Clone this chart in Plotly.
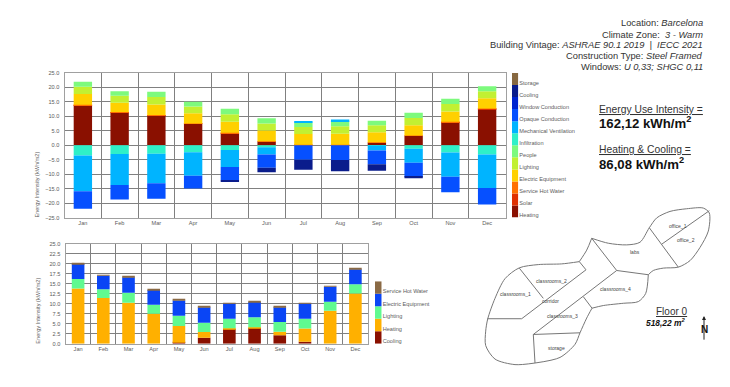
import plotly.graph_objects as go

W, H = 730, 387
MONTHS = ["Jan", "Feb", "Mar", "Apr", "May", "Jun", "Jul", "Aug", "Sep", "Oct", "Nov", "Dec"]

# Upper chart: monthly energy balance (kWh/m2)
heating = [13.8, 11.3, 10.3, 7.4, 4.2, 1.3, 0, 0, 0.9, 3.3, 8.0, 12.55]
solar = [0.05, 0.05, 0.05, 0.05, 0, 0, 0, 0, 0, 0, 0.05, 0.05]
service_hot_water = [0.15, 0.15, 0.1, 0.1, 0.1, 0.1, 0.2, 0.2, 0.1, 0.1, 0.1, 0.1]
electric_equipment = [3.7, 3.2, 3.65, 3.55, 3.8, 3.7, 3.65, 3.8, 3.5, 3.5, 3.5, 3.5]
lighting = [2.5, 2.4, 2.6, 2.3, 2.6, 2.4, 2.45, 2.6, 2.4, 2.5, 2.6, 2.5]
people = [1.7, 1.6, 1.8, 1.6, 1.9, 1.8, 1.6, 1.7, 1.6, 1.8, 1.85, 1.7]
infiltration = [-3.5, -3.0, -2.9, -2.4, -1.6, -0.7, 0, 0, -0.1, -1.2, -2.5, -3.2]
mechanical_ventilation = [-12.4, -10.7, -10.2, -8.1, -5.9, -2.5, 0.5, 0.6, -1.7, -4.8, -8.4, -11.6]
opaque_conduction = [-6.0, -5.0, -5.4, -4.4, -4.6, -4.6, -5.0, -5.1, -4.8, -4.9, -5.3, -5.7]
window_conduction = [0, 0, 0, 0, 0, 0, 0, 0, 0, 0, 0, 0]
cooling = [0, 0, 0, 0, -0.3, -1.5, -3.5, -3.9, -2.2, -0.5, 0, 0]
storage = [0, 0, 0, 0, 0, 0, 0, 0, 0, 0, 0, 0]

# Lower chart: end uses (kWh/m2)
use_cooling = [0, 0, 0, 0, 0.25, 1.5, 3.7, 3.95, 2.1, 0.5, 0, 0]
use_heating = [13.8, 11.4, 10.25, 7.45, 4.15, 1.4, 0.15, 0.15, 0.9, 3.3, 8.2, 12.55]
use_lighting = [2.4, 2.2, 2.45, 2.25, 2.6, 2.35, 2.35, 2.5, 2.4, 2.4, 2.3, 2.3]
use_electric = [3.7, 3.4, 3.9, 3.7, 3.8, 3.85, 3.8, 3.8, 3.7, 3.8, 3.75, 3.75]
use_hot_water = [0.3, 0.2, 0.3, 0.2, 0.2, 0.2, 0.2, 0.2, 0.2, 0.2, 0.2, 0.2]

UPPER_POS = [("Heating", heating, "#8a1000"), ("Solar", solar, "#e03000"),
             ("Service Hot Water", service_hot_water, "#ff7000"),
             ("Electric Equipment", electric_equipment, "#ffd000"),
             ("Lighting", lighting, "#c2f032"), ("People", people, "#7dfa7d"),
             ("Infiltration", infiltration, "#2ff0c8"),
             ("Mechanical Ventilation", mechanical_ventilation, "#00b4ff"),
             ("Opaque Conduction", opaque_conduction, "#0650ff"),
             ("Window Conduction", window_conduction, "#0024d0"),
             ("Cooling", cooling, "#0a1c8c"), ("Storage", storage, "#876840")]
LOWER = [("Cooling", use_cooling, "#8a1000"), ("Heating", use_heating, "#ffb000"),
         ("Lighting", use_lighting, "#60fa90"), ("Electric Equipment", use_electric, "#0a45f5"),
         ("Service Hot Water", use_hot_water, "#8a6a45")]

# Floor plan drawing (page pixels): curved outer walls, split at the sharp corners
PLAN_CURVES = [
    [(535, 365.7), (515, 367.3), (495, 361.7), (485.7, 348), (485.7, 333.3), (487.7, 321),
     (495, 300), (505, 280), (519.3, 269), (538.3, 265.7), (561.7, 265), (579.3, 262.7)],
    [(579.3, 262.7), (586.7, 251), (591.7, 239)],
    [(591.7, 239), (608.3, 244), (626.7, 245.7), (640, 243), (649.3, 228.3), (656.7, 218.3), (670, 211.7),
     (686.7, 209), (703.3, 208.3), (709.3, 213.3), (708.3, 231.7), (700, 248.3), (690, 261.7), (678.3, 268.3),
     (663.3, 269.3), (653.3, 271.7), (648.3, 276)],
    [(648.3, 276), (645.7, 295), (638.3, 303.3), (623.3, 305), (603.3, 307.3), (592, 310)],
    [(592, 310), (586.7, 320), (580, 335), (575, 346.7), (560, 360), (535, 365.7)],
]
PLAN_WALLS = [[(579.3, 262.7), (586, 271), (521.7, 320.7), (487.5, 320.7)],
              [(519.3, 269.3), (543.3, 300)],
              [(591.7, 239), (616.7, 271.7), (648.3, 276)],
              [(616.7, 271.7), (533.3, 336.7), (580, 335)],
              [(533.3, 336.7), (535, 365.7)],
              [(583.3, 298.3), (592, 310)],
              [(649.3, 228.3), (678.3, 268.3)],
              [(661.7, 245), (709.3, 211)]]
PLAN_LABELS = [("office_1", 678, 226.7), ("office_2", 685.7, 240.7), ("labs", 634.7, 253.3),
               ("classrooms_2", 551.7, 282.7), ("classrooms_1", 515.7, 295.3), ("corridor", 550.7, 303),
               ("classrooms_3", 562.7, 317.7), ("classrooms_4", 615, 291), ("storage", 556.7, 350.3)]

FONT = "Liberation Sans"
GREY = "#5c5c5c"
GRID = "#808080"


def px(x):
    return x / W


def py(y):
    return 1 - y / H


fig = go.Figure()


def main_axes(x_name, y_name, dom_x, dom_y, y_range, dtick):
    fig.update_layout({
        x_name: dict(domain=[px(dom_x[0]), px(dom_x[1])], type="category", categoryorder="array",
                     categoryarray=MONTHS, tickson="boundaries", showgrid=True, gridcolor=GRID, gridwidth=1,
                     linecolor="#a0a0a0", linewidth=1, mirror=True, ticks="", zeroline=False,
                     tickfont=dict(size=5.6, color=GREY, family=FONT), anchor=y_name.replace("yaxis", "y"),
                     tickangle=0, layer="below traces"),
        y_name: dict(domain=[py(dom_y[1]), py(dom_y[0])], range=y_range, dtick=dtick, tickformat=".1f",
                     showgrid=True, gridcolor=GRID, gridwidth=1, linecolor="#a0a0a0", linewidth=1, mirror=True,
                     ticks="outside", ticklen=3, tickcolor="rgba(0,0,0,0)", zeroline=False,
                     tickfont=dict(size=5.6, color=GREY, family=FONT), anchor=x_name.replace("xaxis", "x")),
    })


def legend_axes(x_name, y_name, dom_x, dom_y, names):
    fig.update_layout({
        x_name: dict(domain=[px(dom_x[0]), px(dom_x[1])], range=[-0.5, 0.5], visible=False,
                     anchor=y_name.replace("yaxis", "y")),
        y_name: dict(domain=[py(dom_y[1]), py(dom_y[0])], range=[0, len(names)], side="right",
                     tickvals=[i + 0.2 for i in range(len(names))], ticktext=names, showgrid=False, zeroline=False,
                     showline=False, ticks="", tickfont=dict(size=5.6, color=GREY, family=FONT),
                     anchor=x_name.replace("xaxis", "x")),
    })


for name, vals, color in UPPER_POS:
    fig.add_bar(x=MONTHS, y=vals, name=name, marker=dict(color=color, line=dict(width=0)),
                xaxis="x", yaxis="y", width=0.5, showlegend=False)
for name, vals, color in LOWER:
    fig.add_bar(x=MONTHS, y=vals, name=name, marker=dict(color=color, line=dict(width=0)),
                xaxis="x2", yaxis="y2", width=0.5, showlegend=False)
for name, _, color in UPPER_POS:
    fig.add_bar(x=[0], y=[1], name=name, marker=dict(color=color, line=dict(width=0)), xaxis="x3", yaxis="y3",
                width=1, showlegend=False)
for name, _, color in LOWER:
    fig.add_bar(x=[0], y=[1], name=name, marker=dict(color=color, line=dict(width=0)), xaxis="x4", yaxis="y4",
                width=1, showlegend=False)

main_axes("xaxis", "yaxis", (64.5, 505.5), (71, 218), [-25, 25], 5)
main_axes("xaxis2", "yaxis2", (65.5, 368), (244.5, 346), [0, 25], 2.5)
legend_axes("xaxis3", "yaxis3", (512, 518.3), (71, 218), [s[0] for s in UPPER_POS])
legend_axes("xaxis4", "yaxis4", (375, 381.7), (282.7, 346), [s[0] for s in LOWER])

# Full-page overlay for the floor plan
fig.update_layout(xaxis5=dict(domain=[0, 1], range=[0, W], visible=False, anchor="y5"),
                  yaxis5=dict(domain=[0, 1], range=[H, 0], visible=False, anchor="x5"))
for pts, shape in [(c, "spline") for c in PLAN_CURVES] + [(w, "linear") for w in PLAN_WALLS]:
    fig.add_scatter(x=[p[0] for p in pts], y=[p[1] for p in pts], mode="lines",
                    line=dict(color="#777777", width=1, shape=shape, smoothing=0.8),
                    xaxis="x5", yaxis="y5", showlegend=False, hoverinfo="skip")

anns = []


def note(text, x, y, size, anchor="center", color="#333333", yanchor="middle", angle=0):
    anns.append(dict(text=text, x=px(x), y=py(y), xref="paper", yref="paper", showarrow=False, xanchor=anchor,
                     yanchor=yanchor, textangle=angle, font=dict(size=size, color=color, family=FONT), borderpad=0,
                     borderwidth=0))


note("Energy Intensity (kWh/m2)", 37, 218, 5.6, color=GREY, yanchor="bottom", angle=-90)
note("Energy Intensity (kWh/m2)", 38, 346, 5.6, color=GREY, yanchor="bottom", angle=-90)
R = 703
note("Location: <i>Barcelona</i>", R, 20.7, 9.3, "right")
note("Climate Zone:  <i>3 - Warm</i>", R, 32, 9.3, "right")
note("Building Vintage: <i>ASHRAE 90.1 2019  |  IECC 2021</i>", R, 43, 9.3, "right")
note("Construction Type: <i>Steel Framed</i>", R, 54, 9.3, "right")
note("Windows: <i>U 0,33; SHGC 0,11</i>", R, 65, 9.3, "right")
note("<u>Energy Use Intensity =</u>", 599, 108, 10.3, "left")
note("<b>162,12 kWh/m<sup>2</sup></b>", 599, 121.5, 13.2, "left", "#111111")
note("<u>Heating &amp; Cooling =</u>", 599, 149, 10.3, "left")
note("<b>86,08 kWh/m<sup>2</sup></b>", 599, 163.5, 13.2, "left", "#111111")
note("<u>Floor 0</u>", 672, 313, 10, "center")
note("<b><i>518,22 m<sup>2</sup></i></b>", 665, 325, 8.4, "center", "#111111")
note("<b>N</b>", 704, 331.5, 10, "center", "#111111")
for label, x, y in PLAN_LABELS:
    note(label, x, y, 5, "center", "#444444")
anns.append(dict(x=704, y=318, ax=704, ay=343.5, xref="x5", yref="y5", axref="x5", ayref="y5", text="",
                 showarrow=True, arrowhead=2, arrowsize=0.8, arrowwidth=1, arrowcolor="#222222"))

fig.update_layout(width=W, height=H, autosize=False, margin=dict(l=0, r=0, t=0, b=0), barmode="relative",
                  paper_bgcolor="white", plot_bgcolor="rgba(0,0,0,0)", annotations=anns,
                  font=dict(family=FONT), showlegend=False)
fig.write_html("out.html", post_script="document.body.style.margin='0';", config=dict(displayModeBar=False))
